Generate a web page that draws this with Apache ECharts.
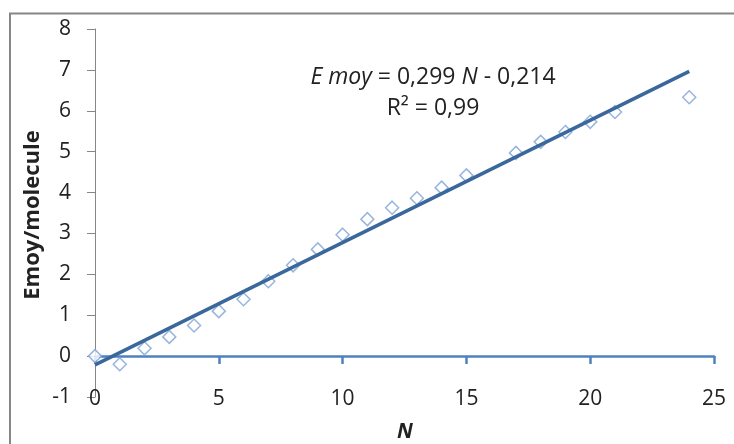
<!DOCTYPE html>
<html><head><meta charset="utf-8">
<script src="https://cdn.jsdelivr.net/npm/echarts@6/dist/echarts.min.js"></script>
<style>html,body{margin:0;padding:0;background:#fff}#c{width:734px;height:444px}</style>
</head><body><div id="c"></div>
<script>
const nValues = [0,1,2,3,4,5,6,7,8,9,10,11,12,13,14,15,17,18,19,20,21,24];
const emoyValues = [0.0,-0.2,0.19,0.47,0.75,1.1,1.39,1.83,2.22,2.61,2.97,3.35,3.63,3.86,4.12,4.42,4.97,5.24,5.48,5.73,5.97,6.33];
const trendX = [0,24];
const trendY = [-0.214,6.962];
const xTicks = {min:0,max:25,interval:5};
const yTicks = {min:-1,max:8,interval:1};
const FONT = '"Open Sans", Lato, sans-serif';

const chart = echarts.init(document.getElementById('c'), null, {renderer:'canvas'});
chart.setOption({
  animation:false,
  backgroundColor:'#fff',
  grid:{left:95,right:20,top:29,bottom:47,outerBoundsMode:'none',containLabel:false},
  xAxis:{type:'value',min:xTicks.min,max:xTicks.max,interval:xTicks.interval,
    axisLine:{onZero:true,lineStyle:{color:'#4f81bd',width:2.5}},
    axisTick:{show:true,inside:false,length:8,lineStyle:{color:'#4f81bd',width:2.5}},
    axisLabel:{margin:-8,fontSize:21,color:'#222',fontFamily:FONT},
    splitLine:{show:false}},
  yAxis:{type:'value',min:yTicks.min,max:yTicks.max,interval:yTicks.interval,
    axisLine:{show:true,onZero:false,lineStyle:{color:'#868686',width:1}},
    axisTick:{show:true,inside:false,length:8,lineStyle:{color:'#868686'}},
    axisLabel:{margin:24,fontSize:21,color:'#222',fontFamily:FONT},
    splitLine:{show:false}},
  series:[
    {type:'scatter',data:nValues.map((n,i)=>[n,emoyValues[i]]),symbol:'diamond',symbolSize:13,
     itemStyle:{color:'#fff',borderColor:'#7ea3d6',borderWidth:1.5},z:3},
    {type:'line',data:trendX.map((x,i)=>[x,trendY[i]]),showSymbol:false,symbol:'none',
     lineStyle:{color:'#3a679c',width:3.5},z:4}
  ],
  graphic:[
    {type:'rect',shape:{x:10,y:13.5,width:760,height:480},style:{fill:'none',stroke:'#868686',lineWidth:2},silent:true,z:-1},
    {type:'text',x:33,y:215,rotation:Math.PI/2,style:{text:'Emoy/molecule',font:'bold 22px '+FONT,fill:'#222',textAlign:'center',textVerticalAlign:'middle'}},
    {type:'text',x:405,y:432,style:{text:'N',font:'italic bold 21px '+FONT,fill:'#222',textAlign:'center',textVerticalAlign:'middle'}},
    {type:'text',x:433,y:77,style:{rich:{i:{font:'italic 23px '+FONT,fill:'#222'},n:{font:'23px '+FONT,fill:'#222'}},
      text:'{i|E moy}{n| = 0,299 }{i|N}{n| - 0,214}',textAlign:'center',textVerticalAlign:'middle'}},
    {type:'text',x:433,y:108,style:{text:'R² = 0,99',font:'23px '+FONT,fill:'#222',textAlign:'center',textVerticalAlign:'middle'}}
  ]
});
</script></body></html>
